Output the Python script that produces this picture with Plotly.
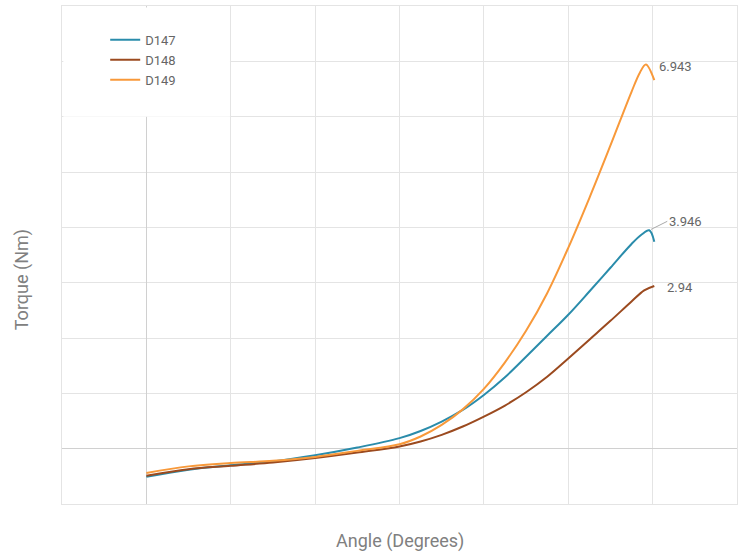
import plotly.graph_objects as go

# Angle (degrees) sample positions and torque values (Nm)
angle_d147 = [0, 5, 10, 15, 20, 25, 30, 32.5, 35, 37.5, 40, 42.5, 45, 47.5, 50, 52.5, 55, 57.5, 58.7, 59.6, 60.2]
torque_d147 = [-0.51, -0.38, -0.30, -0.23, -0.12, 0.02, 0.19, 0.32, 0.49, 0.70, 0.97, 1.29, 1.66, 2.04, 2.42, 2.84, 3.27, 3.70, 3.87, 3.946, 3.74]

angle_d148 = [0, 5, 10, 15, 20, 25, 30, 32.5, 35, 37.5, 40, 42.5, 45, 47.5, 50, 52.5, 55, 57.5, 59, 60.2]
torque_d148 = [-0.49, -0.37, -0.31, -0.25, -0.17, -0.07, 0.04, 0.13, 0.25, 0.40, 0.58, 0.78, 1.02, 1.30, 1.63, 1.97, 2.31, 2.66, 2.86, 2.94]

angle_d149 = [0, 5, 10, 15, 20, 25, 30, 32.5, 35, 37.5, 40, 42.5, 45, 47.5, 50, 52.5, 55, 57.5, 58.5, 59.2, 60.2]
torque_d149 = [-0.44, -0.32, -0.26, -0.22, -0.15, -0.04, 0.08, 0.22, 0.43, 0.71, 1.08, 1.56, 2.13, 2.81, 3.63, 4.53, 5.48, 6.45, 6.80, 6.943, 6.66]

series_names = ["D147", "D148", "D149"]
series_colors = ["#2a8cab", "#9b4a1f", "#f8993a"]
series_x = [angle_d147, angle_d148, angle_d149]
series_y = [torque_d147, torque_d148, torque_d149]

FONT = "Roboto"
fig = go.Figure()
for name, color, xs, ys in zip(series_names, series_colors, series_x, series_y):
    fig.add_trace(go.Scatter(x=xs, y=ys, name=name, mode="lines",
                             line=dict(color=color, width=2, shape="spline", smoothing=1.0)))

# value labels at maxima
for name, xs, ys in zip(series_names, series_x, series_y):
    i = max(range(len(ys)), key=lambda k: ys[k])
    label = f"{ys[i]:g}"
    if name == "D147":
        fig.add_annotation(x=xs[i], y=ys[i], text=label, showarrow=True,
                           arrowhead=0, arrowwidth=1, arrowcolor="#aaaaaa",
                           ax=18, ay=-9, xanchor="left", standoff=2,
                           font=dict(family=FONT, size=13, color="#666666"))
    else:
        fig.add_annotation(x=xs[i], y=ys[i], text=label, showarrow=False,
                           xanchor="left", yanchor="middle", xshift=11, yshift=-2,
                           font=dict(family=FONT, size=13, color="#666666"))

# axis titles
fig.add_annotation(xref="paper", yref="paper", x=-0.058, y=0.451, text="Torque (Nm)",
                   textangle=-90, showarrow=False, xanchor="center", yanchor="middle",
                   font=dict(family=FONT, size=18, color="#808080"))
fig.add_annotation(xref="paper", yref="paper", x=0.5, y=-0.0742, text="Angle (Degrees)",
                   showarrow=False, xanchor="center", yanchor="middle",
                   font=dict(family=FONT, size=18, color="#808080"))

# white legend panel covering the grid
fig.add_shape(type="rect", xref="paper", yref="paper", x0=0.002, x1=0.2488, y0=0.7778, y1=0.997,
              fillcolor="white", line=dict(width=0), layer="above")

fig.update_layout(
    width=744, height=555,
    margin=dict(l=62, r=7, t=6, b=51),
    paper_bgcolor="white", plot_bgcolor="white",
    font=dict(family=FONT, color="#777777"),
    showlegend=True,
    legend=dict(x=0.064, y=0.962, xanchor="left", yanchor="top", bgcolor="rgba(0,0,0,0)",
                font=dict(family=FONT, size=13, color="#666666"), itemwidth=30,
                tracegroupgap=0),
    xaxis=dict(range=[-10, 70], dtick=10, tick0=0, showticklabels=False, ticks="",
               gridcolor="#e4e4e4", gridwidth=1, zeroline=True, zerolinecolor="#d0d0d0",
               zerolinewidth=1, showline=True, linecolor="#e4e4e4", linewidth=1, mirror=True),
    yaxis=dict(range=[-1, 8], dtick=1, tick0=0, showticklabels=False, ticks="",
               gridcolor="#e4e4e4", gridwidth=1, zeroline=True, zerolinecolor="#d0d0d0",
               zerolinewidth=1, showline=True, linecolor="#e4e4e4", linewidth=1, mirror=True),
)

fig.write_html("out.html", config={"displayModeBar": False},
               post_script="document.body.style.margin='0';")
